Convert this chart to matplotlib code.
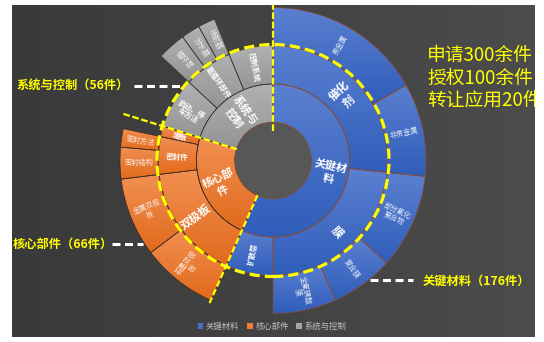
import numpy as np
import matplotlib
matplotlib.use('Agg')
import matplotlib.pyplot as plt
from matplotlib.patches import Circle, Patch
from matplotlib.colors import to_rgb

plt.rcParams['font.family'] = ['Noto Sans CJK SC', 'DejaVu Sans']

# 第一层：大类
groups = ['关键材料', '核心部件', '系统与控制']
group_labels = ['关键材\n料', '核心部\n件', '系统与\n控制']
group_counts = [176, 66, 56]

# 第二层：子类 (parent = 第一层序号)
sub_labels = ['催化\n剂', '膜', '扩散层', '双极板', '密封件', '端板',
              '启动、停\n车方法', '氢循环部件', '控制系统']
sub_parent = [0, 0, 0, 1, 1, 1, 2, 2, 2]
# 没有下一层的子类自己的份额
sub_own = [0, 0, 24, 0, 0, 5.3, 25.7, 0, 22.5]

# 第三层：叶子 (parent = 第二层序号)
leaf_labels = ['贵金属', '非贵金属', '部分氟化\n聚合物', '复合膜', '全氟磺酸\n膜',
               '石墨双极\n板', '金属双极\n板', '密封结构', '密封方法',
               '循环泵', '分水器', '喷射器']
leaf_parent = [0, 0, 1, 1, 1, 3, 3, 4, 4, 7, 7, 7]
leaf_values = [60.5, 35.5, 36, 23.8, 24.2, 29, 30, 12, 7, 10.8, 7.2, 6.5]

# 颜色 (渐变: 上浅下深)
grad = [('#5B80D0', '#2F5DBA'), ('#F29052', '#E1691B'), ('#B2B2B2', '#939393')]
edge_cols = ['#8E4A2E', '#3A2A22', '#383838']
legend_cols = ['#4472C4', '#ED7D31', '#A5A5A5']

# ---- 汇总每层的值 ----
sub_values = [sub_own[i] + sum(v for v, p in zip(leaf_values, leaf_parent) if p == i)
              for i in range(len(sub_labels))]
group_values = [sum(v for v, p in zip(sub_values, sub_parent) if p == g) for g in range(len(groups))]

ring3_vals, ring3_lab, ring3_grp = [], [], []
for i in range(len(sub_labels)):
    kids = [k for k, p in enumerate(leaf_parent) if p == i]
    if kids:
        for k in kids:
            ring3_vals.append(leaf_values[k])
            ring3_lab.append(leaf_labels[k])
            ring3_grp.append(sub_parent[i])
    else:
        ring3_vals.append(sub_own[i])
        ring3_lab.append(None)
        ring3_grp.append(None)

total = sum(group_values)

W, H = 544, 342
fig = plt.figure(figsize=(W / 100, H / 100), dpi=100, facecolor='white')
ax = fig.add_axes([12 / W, 5 / H, 523 / W, 332 / H])

cx, cy = 273, H - 160.5
r0, r1, r2, r3 = 38.3, 76.5, 115, 153


def colour_grad(top, bottom, n=128, horizontal=False):
    t = np.linspace(0, 1, n)
    a, b = np.array(to_rgb(top)), np.array(to_rgb(bottom))
    g = a * (1 - t[:, None]) + b * t[:, None]
    if horizontal:
        return np.repeat(g[None, :, :], 2, axis=0)
    return np.repeat(g[:, None, :], 2, axis=1)


def fill(wedge, top, bottom):
    ext = wedge.get_path().get_extents()
    im = ax.imshow(colour_grad(top, bottom), extent=[ext.x0 - 1, ext.x1 + 1, ext.y0 - 1, ext.y1 + 1],
                   aspect='auto', interpolation='nearest', zorder=1)
    im.set_clip_path(wedge)
    wedge.set_facecolor('none')
    wedge.set_zorder(2)


def put_label(text, phi, r, size, bold=True, alpha=1.0):
    rad = np.deg2rad(phi)
    rot = 90 - phi
    while rot <= -90:
        rot += 180
    ax.text(cx + r * np.sin(rad), cy + r * np.cos(rad), text, rotation=rot,
            rotation_mode='anchor', ha='center', va='center', fontsize=size,
            fontweight='bold' if bold else 'normal', color='white', alpha=alpha,
            linespacing=1.05, zorder=5)


# 背景
ax.imshow(colour_grad('#3A3A3A', '#4C4C4C', horizontal=True), extent=[12, 535, 5, 337],
          aspect='auto', interpolation='bilinear', zorder=-10)

# 三层圆环
rings = [(group_values, r1, [i for i in range(len(groups))]),
         (sub_values, r2, sub_parent),
         (ring3_vals, r3, ring3_grp)]
for vals, rad_out, grp in rings:
    res = ax.pie(vals, radius=rad_out, center=(cx, cy), startangle=90, counterclock=False,
                 wedgeprops=dict(width=38.4, linewidth=0.5))
    for w, g in zip(res[0], grp):
        if g is None:
            w.set_visible(False)
            continue
        w.set_edgecolor(edge_cols[g])
        fill(w, *grad[g])

# 标签
big_sub = {0, 1, 3}
for labels, vals, rin, rout, level in [(group_labels, group_values, r0, r1, 1),
                                       (sub_labels, sub_values, r1, r2, 2),
                                       (ring3_lab, ring3_vals, r2, r3, 3)]:
    start = 0
    for i, (lab, v) in enumerate(zip(labels, vals)):
        span = v / total * 360
        if lab is not None:
            mid = start + span / 2
            if level == 1:
                put_label(lab, mid, (rin + rout) / 2, 8)
            elif level == 2:
                put_label(lab, mid, (rin + rout) / 2, 8.3 if i in big_sub else 5.4)
            else:
                put_label(lab, mid, (rin + rout) / 2, 5.2, bold=False, alpha=0.85)
        start += span

# 中心空洞
ax.add_patch(Circle((cx, cy), r0, facecolor='#575757', edgecolor='#8E4A2E', lw=0.5, zorder=3))

# 黄色虚线
ax.add_patch(Circle((cx, cy), 116, fill=False, edgecolor='#FFFF00', lw=2.3,
                    linestyle=(0, (3.2, 1.6)), zorder=6))
bounds = np.cumsum([0] + group_values)[:-1] / total * 360
line_r = [(30, 165), (38, 156), (38, 158)]
for phi, (ra, rb) in zip(bounds, line_r):
    rad = np.deg2rad(phi)
    ax.plot([cx + ra * np.sin(rad), cx + rb * np.sin(rad)],
            [cy + ra * np.cos(rad), cy + rb * np.cos(rad)],
            color='#FFFF00', lw=1.6, dashes=(3, 1.2), zorder=6)

# 引线 + 标注
ax.plot([134, 180], [H - 86, H - 86], color='white', lw=2.2, dashes=(2.6, 1.5), zorder=6)
ax.plot([112, 143], [H - 244, H - 244], color='white', lw=2.2, dashes=(2.6, 1.5), zorder=6)
ax.plot([370, 413], [H - 280, H - 280], color='white', lw=2.2, dashes=(2.6, 1.5), zorder=6)

ax.text(16.5, H - 85, f'{groups[2]}（{group_counts[2]}件）', color='#FFFF00', fontsize=8.8,
        fontweight='bold', ha='left', va='center')
ax.text(12.5, H - 244, f'{groups[1]}（{group_counts[1]}件）', color='#FFFF00', fontsize=8.8,
        fontweight='bold', ha='left', va='center')
ax.text(422.5, H - 281.5, f'{groups[0]}（{group_counts[0]}件）', color='#FFFF00', fontsize=8.8,
        fontweight='bold', ha='left', va='center')

for txt, yy in zip(['申请300余件', '授权100余件', '转让应用20件'], [55, 78, 100.5]):
    ax.text(427, H - yy, txt, color='#FFFF00', fontsize=13.5, ha='left', va='center',
            clip_on=True)

# 图例
handles = [Patch(facecolor=c, edgecolor='none') for c in legend_cols]
ax.legend(handles, groups, loc='center', bbox_to_anchor=(272, H - 326),
          bbox_transform=ax.transData, ncol=3, frameon=False, fontsize=6,
          handlelength=0.7, handleheight=0.7, handletextpad=0.3, columnspacing=0.9,
          labelcolor='#BFBFBF')

ax.set_xlim(12, 535)
ax.set_ylim(5, 337)
ax.set_aspect('auto')
ax.axis('off')

plt.savefig('out.png', dpi=100, facecolor='white')
